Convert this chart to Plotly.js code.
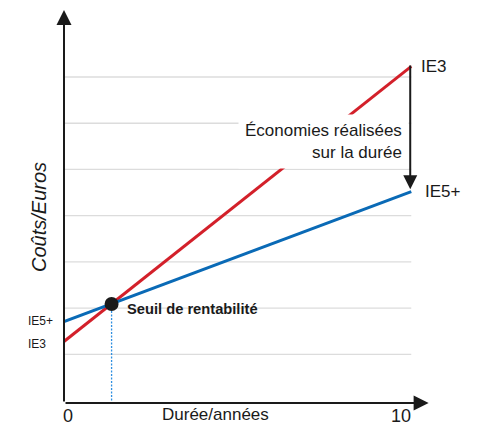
<!DOCTYPE html>
<html>
<head>
<meta charset="utf-8">
<script src="https://cdn.plot.ly/plotly-3.0.1.min.js"></script>
<style>html,body{margin:0;padding:0;background:#fff;}#chart{width:497px;height:431px;}</style>
</head>
<body>
<div id="chart"></div>
<script>
// Data
var years = [0, 10];
var ie3Costs = [1.28, 7.23];
var ie5Costs = [1.71, 4.52];
var breakEvenYear = [1.37];
var breakEvenCost = [2.09];
var gridValues = [1, 2, 3, 4, 5, 6, 7];
var xTickVals = [0, 10];
var xTickText = ['0', '10'];
var startLabels = ['IE5+', 'IE3'];

var SANS = '"Liberation Sans", Arial, sans-serif';
var RED = '#d3202a';
var BLUE = '#0a6ab6';
var DARK = '#1a1a1a';

var traces = [
  {x: years, y: ie3Costs, mode: 'lines', line: {color: RED, width: 3}, hoverinfo: 'none', showlegend: false},
  {x: years, y: ie5Costs, mode: 'lines', line: {color: BLUE, width: 3}, hoverinfo: 'none', showlegend: false},
  {x: [breakEvenYear[0], breakEvenYear[0]], y: [breakEvenCost[0], -0.05], mode: 'lines',
   line: {color: '#2f8fe0', width: 1.3, dash: '2px,1.5px'}, hoverinfo: 'none', showlegend: false},
  {x: breakEvenYear, y: breakEvenCost, mode: 'markers', marker: {color: DARK, size: 14}, hoverinfo: 'none', showlegend: false}
];

var shapes = gridValues.map(function (v) {
  return {type: 'line', xref: 'x', yref: 'y', x0: 0, x1: years[1], y0: v, y1: v,
          line: {color: '#dcdcdc', width: 1.3}, layer: 'below'};
});

var annotations = [];
// y axis with arrow
annotations.push({xref: 'x', yref: 'y', axref: 'x', ayref: 'y', x: 0, y: 8.45, ax: 0, ay: -0.05,
  showarrow: true, arrowhead: 2, arrowsize: 1.5, arrowwidth: 2, arrowcolor: DARK, text: ''});
// x axis with arrow
annotations.push({xref: 'x', yref: 'y', axref: 'x', ayref: 'y', x: 10.5, y: -0.05, ax: 0, ay: -0.05,
  showarrow: true, arrowhead: 2, arrowsize: 1.5, arrowwidth: 2, arrowcolor: DARK, text: ''});
// savings text (white box hides the line behind it)
annotations.push({xref: 'paper', yref: 'y', x: (409 - 64) / 382, y: 5.6, xanchor: 'right', yanchor: 'middle', align: 'right',
  text: 'Économies réalisées<br>sur la durée', showarrow: false, bgcolor: '#ffffff', borderpad: 6,
  font: {family: SANS, size: 17, color: DARK}});
// savings arrow
annotations.push({xref: 'x', yref: 'y', axref: 'x', ayref: 'y', x: 9.97, y: ie5Costs[1] + 0.05, ax: 9.97, ay: ie3Costs[1] + 0.05,
  showarrow: true, arrowhead: 2, arrowsize: 1.4, arrowwidth: 2, arrowcolor: DARK, text: ''});
// end labels
annotations.push({xref: 'x', yref: 'y', x: years[1], y: ie3Costs[1], xanchor: 'left', yanchor: 'middle', xshift: 8,
  text: 'IE3', showarrow: false, font: {family: SANS, size: 17, color: DARK}});
annotations.push({xref: 'x', yref: 'y', x: years[1], y: ie5Costs[1], xanchor: 'left', yanchor: 'middle', xshift: 12,
  text: 'IE5+', showarrow: false, font: {family: SANS, size: 17, color: DARK}});
// start labels
annotations.push({xref: 'paper', yref: 'y', x: (26 - 64) / 382, y: ie5Costs[0] + 0.02, xanchor: 'left', yanchor: 'middle',
  text: startLabels[0], showarrow: false, font: {family: SANS, size: 12, color: DARK}});
annotations.push({xref: 'paper', yref: 'y', x: (26 - 64) / 382, y: ie3Costs[0] - 0.05, xanchor: 'left', yanchor: 'middle',
  text: startLabels[1], showarrow: false, font: {family: SANS, size: 12, color: DARK}});
// break-even label
annotations.push({xref: 'x', yref: 'y', x: breakEvenYear[0], y: breakEvenCost[0], xanchor: 'left', yanchor: 'middle',
  xshift: 13, yshift: -5, text: '<b>Seuil de rentabilité</b>', showarrow: false, font: {family: SANS, size: 14.7, color: DARK}});
// x tick labels
annotations.push({xref: 'x', yref: 'paper', x: xTickVals[0], y: 0, yanchor: 'top', xshift: 4, yshift: -1,
  text: xTickText[0], showarrow: false, font: {family: SANS, size: 18, color: DARK}});
annotations.push({xref: 'x', yref: 'paper', x: xTickVals[1], y: 0, yanchor: 'top', xshift: -10, yshift: -1,
  text: xTickText[1], showarrow: false, font: {family: SANS, size: 18, color: DARK}});
// x title
annotations.push({xref: 'paper', yref: 'paper', x: (215 - 64) / 382, y: 0, yanchor: 'top', yshift: 0,
  text: 'Durée/années', showarrow: false, font: {family: SANS, size: 17, color: DARK}});
// y title
annotations.push({xref: 'paper', yref: 'paper', x: (39 - 64) / 382, y: (403 - 217) / 400, xanchor: 'center', yanchor: 'middle',
  textangle: -90, text: '<i>Coûts/Euros</i>', showarrow: false, font: {family: SANS, size: 20, color: DARK}});

var layout = {
  width: 497, height: 431,
  margin: {l: 64, r: 51, t: 3, b: 28, pad: 0},
  paper_bgcolor: '#ffffff', plot_bgcolor: '#ffffff',
  showlegend: false,
  xaxis: {range: [0, 11], showgrid: false, zeroline: false, showline: false, showticklabels: false, ticks: '', fixedrange: true},
  yaxis: {range: [-0.05, 8.6], showgrid: false, zeroline: false, showline: false, showticklabels: false, ticks: '', fixedrange: true},
  shapes: shapes,
  annotations: annotations
};

Plotly.newPlot('chart', traces, layout, {displayModeBar: false, staticPlot: true});
</script>
</body>
</html>
